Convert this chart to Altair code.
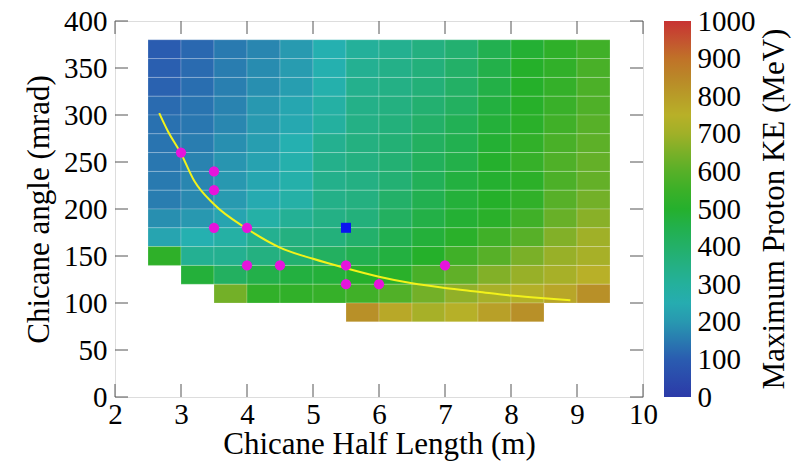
import altair as alt
import pandas as pd

# ---- data ----
x_centers = [2.75, 3.25, 3.75, 4.25, 4.75, 5.25, 5.75, 6.25, 6.75, 7.25, 7.75, 8.25, 8.75, 9.25]
y_centers = [370, 350, 330, 310, 290, 270, 250, 230, 210, 190, 170, 150, 130, 110, 90]
N = None
ke_rows = [
    [100, 120, 150, 170, 205, 260, 305, 325, 355, 385, 445, 490, 525, 560],
    [105, 125, 155, 180, 210, 262, 320, 340, 365, 400, 455, 505, 530, 575],
    [110, 130, 158, 185, 215, 268, 330, 345, 370, 405, 460, 505, 535, 580],
    [125, 140, 165, 200, 235, 285, 340, 355, 385, 415, 470, 510, 545, 585],
    [135, 145, 172, 205, 240, 295, 345, 365, 400, 435, 480, 515, 560, 600],
    [140, 155, 185, 215, 260, 325, 355, 375, 415, 445, 490, 530, 575, 610],
    [145, 165, 195, 225, 268, 335, 355, 380, 425, 455, 500, 540, 585, 620],
    [150, 170, 200, 235, 272, 335, 350, 380, 430, 470, 495, 520, 580, 620],
    [155, 175, 205, 245, 280, 340, 355, 400, 445, 480, 505, 530, 600, 640],
    [185, 200, 230, 280, 315, 345, 365, 415, 460, 490, 515, 560, 625, 670],
    [230, 260, 285, 325, 355, 365, 395, 445, 480, 515, 560, 600, 660, 700],
    [525, 320, 325, 355, 385, 415, 445, 470, 505, 560, 600, 650, 690, 715],
    [N, 480, 415, 455, 470, 480, 505, 515, 575, 615, 660, 690, 715, 750],
    [N, N, 640, 530, 530, 540, 560, 590, 640, 680, 715, 740, 775, 830],
    [N, N, N, N, N, N, 830, 770, 715, 745, 790, 830, N, N],
]
cell_w = 0.5
cell_h = 20

pts_x = [3.0, 3.5, 3.5, 3.5, 4.0, 4.0, 4.5, 5.5, 5.5, 6.0, 7.0]
pts_y = [260, 240, 220, 180, 180, 140, 140, 140, 120, 120, 140]

best_x = [5.5]
best_y = [180]

curve_x = [2.67, 2.8, 3.0, 3.2, 3.5, 4.0, 4.5, 5.0, 5.5, 6.0, 6.5, 7.0, 7.5, 8.0, 8.5, 8.9]
curve_y = [302, 283, 259, 230, 205, 179, 159, 147, 137, 128, 121, 116, 112, 108, 105, 103]

x_ticks = [2, 3, 4, 5, 6, 7, 8, 9, 10]
y_ticks = [0, 50, 100, 150, 200, 250, 300, 350, 400]
cb_ticks = [0, 100, 200, 300, 400, 500, 600, 700, 800, 900, 1000]

cmap_stops = [0, 100, 200, 260, 325, 400, 445, 505, 560, 615, 700, 750, 790, 830, 900, 950, 1000]
cmap_colors = ["#2c3aa8", "#2a5cb0", "#2898b0", "#25b0b0", "#24b090", "#23b068", "#22b050",
               "#25b02a", "#40b028", "#60b028", "#a0b028", "#b8b028", "#b8a028", "#b89028",
               "#c07228", "#c45230", "#c83232"]

FONT = "Liberation Serif"
W, H = 528, 376
CB_X, CB_W = 549, 27

# ---- tables ----
cells = []
for yc, row in zip(y_centers, ke_rows):
    for xc, v in zip(x_centers, row):
        if v is not None:
            cells.append({"x0": xc - cell_w / 2, "x1": xc + cell_w / 2,
                          "y0": yc - cell_h / 2, "y1": yc + cell_h / 2, "ke": v})
cells_df = pd.DataFrame(cells)
pts_df = pd.DataFrame({"x": pts_x, "y": pts_y})
best_df = pd.DataFrame({"x": best_x, "y": best_y})
curve_df = pd.DataFrame({"x": curve_x, "y": curve_y})
xt_df = pd.DataFrame({"v": x_ticks})
yt_df = pd.DataFrame({"v": y_ticks})
cbt_df = pd.DataFrame({"v": cb_ticks})
cbt_inner_df = pd.DataFrame({"v": cb_ticks[1:-1]})

xs = alt.Scale(domain=[2, 10], nice=False, zero=False)
ys = alt.Scale(domain=[0, 400], nice=False, zero=False)
cbs = alt.Scale(domain=[0, 1000], nice=False, zero=False)

xaxis = alt.Axis(values=x_ticks, format="d", ticks=False, domain=False, grid=False, labelFont=FONT,
                 labelFontSize=29, labelPadding=3, labelColor="black", title="Chicane Half Length (m)",
                 titleFont=FONT, titleFontSize=31, titleFontWeight="normal", titlePadding=0,
                 titleColor="black", labelFlush=False)
yaxis = alt.Axis(values=y_ticks, format="d", ticks=False, domain=False, grid=False, labelFont=FONT,
                 labelFontSize=29, labelPadding=8, labelColor="black", title="Chicane angle (mrad)",
                 titleFont=FONT, titleFontSize=31, titleFontWeight="normal", titlePadding=8,
                 titleColor="black", labelFlush=False)
cbaxis = alt.Axis(orient="right", offset=CB_X + CB_W - W, values=cb_ticks, format="d", ticks=False,
                  domain=False, grid=False, labelFont=FONT, labelFontSize=29, labelPadding=6,
                  labelColor="black", title=None, labelFlush=False, labelOverlap=False)

heat = alt.Chart(cells_df).mark_rect(stroke="white", strokeWidth=1, strokeOpacity=0.2).encode(
    x=alt.X("x0:Q", scale=xs, axis=xaxis),
    x2="x1:Q",
    y=alt.Y("y0:Q", scale=ys, axis=yaxis),
    y2="y1:Q",
    color=alt.Color("ke:Q",
                    scale=alt.Scale(domain=cmap_stops, range=cmap_colors, interpolate="rgb"),
                    legend=alt.Legend(orient="none", legendX=CB_X, legendY=0, direction="vertical",
                                      gradientLength=H, gradientThickness=CB_W, title=None,
                                      labelOpacity=0, labelFontSize=1, gradientStrokeWidth=0)),
)

curve = alt.Chart(curve_df).mark_line(color="#f2f21a", strokeWidth=2, interpolate="monotone").encode(
    x=alt.X("x:Q", scale=xs), y=alt.Y("y:Q", scale=ys), order="x:Q")

pts = alt.Chart(pts_df).mark_point(filled=True, shape="circle", size=105, color="#e614dc", opacity=1).encode(
    x=alt.X("x:Q", scale=xs), y=alt.Y("y:Q", scale=ys))

best = alt.Chart(best_df).mark_point(filled=True, shape="square", size=100, color="#0a14f0", opacity=1).encode(
    x=alt.X("x:Q", scale=xs), y=alt.Y("y:Q", scale=ys))

tick_color = "#555555"
tb = alt.Chart(xt_df).mark_rule(color=tick_color, strokeWidth=1).encode(
    x=alt.X("v:Q", scale=xs), y=alt.value(H), y2=alt.value(H - 13))
tt = alt.Chart(xt_df).mark_rule(color=tick_color, strokeWidth=1).encode(
    x=alt.X("v:Q", scale=xs), y=alt.value(0), y2=alt.value(13))
tl = alt.Chart(yt_df).mark_rule(color=tick_color, strokeWidth=1).encode(
    y=alt.Y("v:Q", scale=ys), x=alt.value(0), x2=alt.value(13))
tr = alt.Chart(yt_df).mark_rule(color=tick_color, strokeWidth=1).encode(
    y=alt.Y("v:Q", scale=ys), x=alt.value(W), x2=alt.value(W - 13))

cb_title = alt.Chart(pd.DataFrame({"t": ["Maximum Proton KE (MeV)"]})).mark_text(
    angle=270, font=FONT, fontSize=31, color="black", align="center", baseline="middle").encode(
    text="t:N", x=alt.value(660), y=alt.value(H / 2))

main = alt.layer(heat, curve, pts, best, tb, tt, tl, tr, cb_title)

# colour-bar labels and inner ticks, on the colour-bar's own scale
cb_labels = alt.Chart(cbt_df).mark_rule(opacity=0).encode(
    y=alt.Y("v:Q", scale=cbs, axis=cbaxis), x=alt.value(CB_X), x2=alt.value(CB_X + 1))
cb_tl = alt.Chart(cbt_inner_df).mark_rule(color="#3a3a3a", strokeWidth=1, opacity=0.7).encode(
    y=alt.Y("v:Q", scale=cbs, axis=cbaxis), x=alt.value(CB_X), x2=alt.value(CB_X + 9))
cb_tr = alt.Chart(cbt_inner_df).mark_rule(color="#3a3a3a", strokeWidth=1, opacity=0.7).encode(
    y=alt.Y("v:Q", scale=cbs, axis=cbaxis), x=alt.value(CB_X + CB_W - 9), x2=alt.value(CB_X + CB_W))
cb = alt.layer(cb_labels, cb_tl, cb_tr)

chart = alt.layer(main, cb).resolve_scale(y="independent").properties(
    width=W, height=H,
    autosize=alt.AutoSizeParams(type="none"),
    padding={"left": 107, "top": 13, "right": 153, "bottom": 64},
).configure_view(stroke="#333333", strokeWidth=1).configure(background="white")

chart.save("out.html", embed_options={"renderer": "svg", "actions": False})
